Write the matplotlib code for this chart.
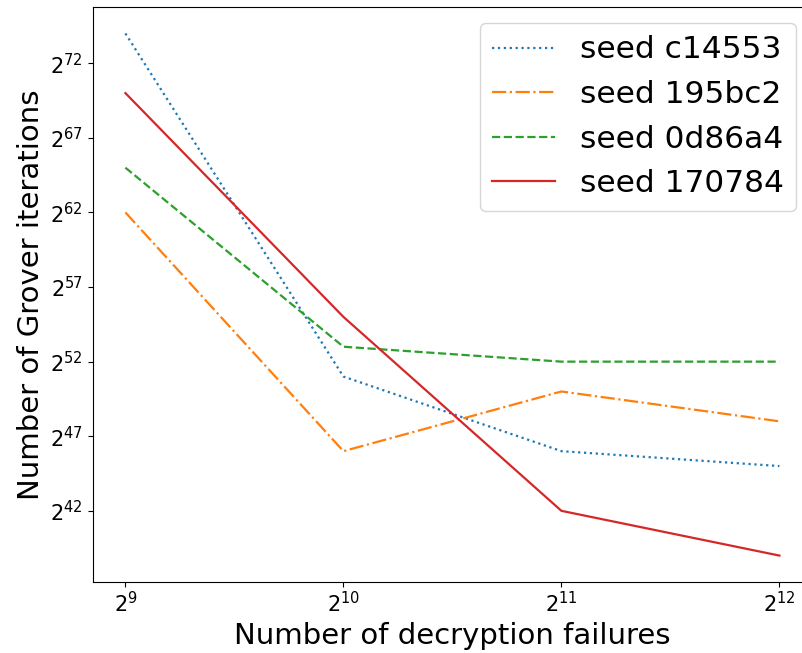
import matplotlib

matplotlib.use("Agg")

import matplotlib.pyplot as plt
import matplotlib.ticker as mticker
import numpy as np

# failures (log2) and Grover iterations (log2) per seed
failures_exp = [9, 10, 11, 12]
seed_labels = ["seed c14553", "seed 195bc2", "seed 0d86a4", "seed 170784"]
c14553_exp = [74, 51, 46, 45]
s195bc2_exp = [62, 46, 50, 48]
s0d86a4_exp = [65, 53, 52, 52]
s170784_exp = [70, 55, 42, 39]
ytick_exp = [42, 47, 52, 57, 62, 67, 72]

series = [c14553_exp, s195bc2_exp, s0d86a4_exp, s170784_exp]
styles = [":", "-.", "--", "-"]
colors = ["tab:blue", "tab:orange", "tab:green", "tab:red"]

fig = plt.figure(figsize=(8.02, 6.53), dpi=100)
ax = fig.add_axes([0.1156, 0.1092, 0.897, 0.8796])

x = 2.0 ** np.array(failures_exp)
for vals, ls, c, lab in zip(series, styles, colors, seed_labels):
    ax.plot(x, 2.0 ** np.array(vals), linestyle=ls, color=c, label=lab, linewidth=1.6)

ax.set_xscale("log", base=2)
ax.set_yscale("log", base=2)
ax.set_xticks(x)
ax.set_yticks(2.0 ** np.array(ytick_exp))
ax.xaxis.set_major_formatter(mticker.LogFormatterSciNotation(base=2))
ax.yaxis.set_major_formatter(mticker.LogFormatterSciNotation(base=2))
ax.xaxis.set_minor_locator(mticker.NullLocator())
ax.yaxis.set_minor_locator(mticker.NullLocator())
ax.tick_params(labelsize=15)

ax.set_xlabel("Number of decryption failures", fontsize=21)
ax.set_ylabel("Number of Grover iterations", fontsize=21)
ax.legend(loc="upper right", fontsize=22.5)

fig.savefig("out.png", dpi=100)
